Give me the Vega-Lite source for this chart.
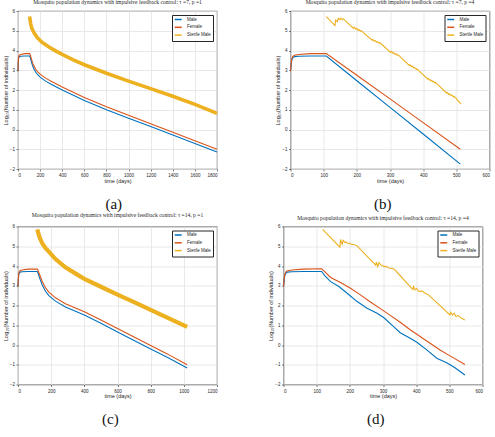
{
  "$schema": "https://vega.github.io/schema/vega-lite/v6.json",
  "background": "white",
  "padding": {"left": 2, "top": 0, "right": 0, "bottom": 0},
  "config": {
    "font": "Liberation Sans",
    "view": {"stroke": "#262626", "strokeWidth": 0.8},
    "title": {"font": "Liberation Serif", "fontSize": 5.6, "fontWeight": "normal", "color": "#262626", "offset": 2, "anchor": "middle"},
    "axis": {
      "labelFont": "Liberation Sans", "labelFontSize": 4.5, "labelColor": "#262626", "labelOverlap": false, "format": "d",
      "titleFont": "Liberation Sans", "titleFontSize": 5.5, "titleFontWeight": "normal", "titleColor": "#262626",
      "gridColor": "#e2e2e2", "gridWidth": 0.8, "domain": false,
      "tickColor": "#262626", "tickSize": 2, "tickWidth": 0.6,
      "labelPadding": 1.5, "titlePadding": 1
    },
    "legend": {
      "orient": "top-right", "offset": 4, "padding": 2, "strokeColor": "#262626", "fillColor": "white",
      "labelFont": "Liberation Sans", "labelFontSize": 4.5, "labelColor": "#262626", "labelOffset": 8,
      "symbolType": "M-1,0H3", "symbolSize": 12, "symbolStrokeWidth": 1.5, "rowPadding": 0.8, "cornerRadius": 0
    }
  },
  "datasets": {
    "a": [
      {"s": "Male", "t": 0, "v": 2.95}, {"s": "Male", "t": 2, "v": 3.3}, {"s": "Male", "t": 4, "v": 3.52}, {"s": "Male", "t": 7, "v": 3.63},
      {"s": "Male", "t": 12, "v": 3.69}, {"s": "Male", "t": 25, "v": 3.71}, {"s": "Male", "t": 60, "v": 3.72}, {"s": "Male", "t": 105, "v": 3.72},
      {"s": "Male", "t": 110, "v": 3.66}, {"s": "Male", "t": 120, "v": 3.45}, {"s": "Male", "t": 130, "v": 3.26}, {"s": "Male", "t": 140, "v": 3.11},
      {"s": "Male", "t": 160, "v": 2.9}, {"s": "Male", "t": 180, "v": 2.76}, {"s": "Male", "t": 200, "v": 2.65}, {"s": "Male", "t": 250, "v": 2.45},
      {"s": "Male", "t": 300, "v": 2.29}, {"s": "Male", "t": 400, "v": 2.0}, {"s": "Male", "t": 500, "v": 1.73}, {"s": "Male", "t": 600, "v": 1.47},
      {"s": "Male", "t": 800, "v": 1.0}, {"s": "Male", "t": 1000, "v": 0.57}, {"s": "Male", "t": 1200, "v": 0.15}, {"s": "Male", "t": 1400, "v": -0.28},
      {"s": "Male", "t": 1600, "v": -0.71}, {"s": "Male", "t": 1800, "v": -1.14},
      {"s": "Female", "t": 0, "v": 2.95}, {"s": "Female", "t": 2, "v": 3.35}, {"s": "Female", "t": 4, "v": 3.58}, {"s": "Female", "t": 7, "v": 3.7},
      {"s": "Female", "t": 12, "v": 3.76}, {"s": "Female", "t": 25, "v": 3.8}, {"s": "Female", "t": 60, "v": 3.84}, {"s": "Female", "t": 105, "v": 3.85},
      {"s": "Female", "t": 110, "v": 3.8}, {"s": "Female", "t": 120, "v": 3.6}, {"s": "Female", "t": 130, "v": 3.41}, {"s": "Female", "t": 140, "v": 3.26},
      {"s": "Female", "t": 160, "v": 3.05}, {"s": "Female", "t": 180, "v": 2.91}, {"s": "Female", "t": 200, "v": 2.8}, {"s": "Female", "t": 250, "v": 2.6},
      {"s": "Female", "t": 300, "v": 2.44}, {"s": "Female", "t": 400, "v": 2.15}, {"s": "Female", "t": 500, "v": 1.88}, {"s": "Female", "t": 600, "v": 1.62},
      {"s": "Female", "t": 800, "v": 1.15}, {"s": "Female", "t": 1000, "v": 0.72}, {"s": "Female", "t": 1200, "v": 0.29}, {"s": "Female", "t": 1400, "v": -0.14},
      {"s": "Female", "t": 1600, "v": -0.57}, {"s": "Female", "t": 1800, "v": -1.0}
    ],
    "aS": [
      {"s": "Sterile Male", "t": 105, "v": 5.72}, {"s": "Sterile Male", "t": 115, "v": 5.35}, {"s": "Sterile Male", "t": 125, "v": 5.12},
      {"s": "Sterile Male", "t": 145, "v": 4.9}, {"s": "Sterile Male", "t": 175, "v": 4.65}, {"s": "Sterile Male", "t": 210, "v": 4.45},
      {"s": "Sterile Male", "t": 280, "v": 4.18}, {"s": "Sterile Male", "t": 340, "v": 3.98}, {"s": "Sterile Male", "t": 400, "v": 3.8},
      {"s": "Sterile Male", "t": 500, "v": 3.53}, {"s": "Sterile Male", "t": 600, "v": 3.28}, {"s": "Sterile Male", "t": 800, "v": 2.85},
      {"s": "Sterile Male", "t": 1000, "v": 2.45}, {"s": "Sterile Male", "t": 1200, "v": 2.07}, {"s": "Sterile Male", "t": 1400, "v": 1.68},
      {"s": "Sterile Male", "t": 1600, "v": 1.27}, {"s": "Sterile Male", "t": 1800, "v": 0.82}
    ],
    "b": [
      {"s": "Male", "t": 0, "v": 2.95}, {"s": "Male", "t": 2, "v": 3.3}, {"s": "Male", "t": 4, "v": 3.52}, {"s": "Male", "t": 7, "v": 3.63},
      {"s": "Male", "t": 12, "v": 3.69}, {"s": "Male", "t": 25, "v": 3.71}, {"s": "Male", "t": 60, "v": 3.72}, {"s": "Male", "t": 108, "v": 3.72},
      {"s": "Male", "t": 200, "v": 2.47}, {"s": "Male", "t": 300, "v": 1.12}, {"s": "Male", "t": 400, "v": -0.23}, {"s": "Male", "t": 512, "v": -1.75},
      {"s": "Female", "t": 0, "v": 2.95}, {"s": "Female", "t": 2, "v": 3.35}, {"s": "Female", "t": 4, "v": 3.58}, {"s": "Female", "t": 7, "v": 3.7},
      {"s": "Female", "t": 12, "v": 3.76}, {"s": "Female", "t": 25, "v": 3.8}, {"s": "Female", "t": 60, "v": 3.84}, {"s": "Female", "t": 108, "v": 3.85},
      {"s": "Female", "t": 200, "v": 2.75}, {"s": "Female", "t": 300, "v": 1.55}, {"s": "Female", "t": 400, "v": 0.35}, {"s": "Female", "t": 512, "v": -1.0}
    ],
    "bS": [
      {"s": "Sterile Male", "t": 108, "v": 5.71}, {"s": "Sterile Male", "t": 134, "v": 5.26}, {"s": "Sterile Male", "t": 136, "v": 5.54},
      {"s": "Sterile Male", "t": 141, "v": 5.46}, {"s": "Sterile Male", "t": 144, "v": 5.63}, {"s": "Sterile Male", "t": 149, "v": 5.56},
      {"s": "Sterile Male", "t": 152, "v": 5.63}, {"s": "Sterile Male", "t": 157, "v": 5.56}, {"s": "Sterile Male", "t": 160, "v": 5.6},
      {"s": "Sterile Male", "t": 164, "v": 5.52}, {"s": "Sterile Male", "t": 190, "v": 5.12}, {"s": "Sterile Male", "t": 192, "v": 5.18},
      {"s": "Sterile Male", "t": 197, "v": 5.08}, {"s": "Sterile Male", "t": 199, "v": 5.12}, {"s": "Sterile Male", "t": 204, "v": 5.03},
      {"s": "Sterile Male", "t": 206, "v": 5.06}, {"s": "Sterile Male", "t": 211, "v": 4.98}, {"s": "Sterile Male", "t": 213, "v": 5.0},
      {"s": "Sterile Male", "t": 218, "v": 4.93}, {"s": "Sterile Male", "t": 246, "v": 4.52}, {"s": "Sterile Male", "t": 248, "v": 4.56},
      {"s": "Sterile Male", "t": 253, "v": 4.47}, {"s": "Sterile Male", "t": 255, "v": 4.5}, {"s": "Sterile Male", "t": 260, "v": 4.42},
      {"s": "Sterile Male", "t": 262, "v": 4.45}, {"s": "Sterile Male", "t": 267, "v": 4.38}, {"s": "Sterile Male", "t": 269, "v": 4.4},
      {"s": "Sterile Male", "t": 274, "v": 4.33}, {"s": "Sterile Male", "t": 302, "v": 3.9}, {"s": "Sterile Male", "t": 304, "v": 3.95},
      {"s": "Sterile Male", "t": 309, "v": 3.86}, {"s": "Sterile Male", "t": 311, "v": 3.89}, {"s": "Sterile Male", "t": 316, "v": 3.8},
      {"s": "Sterile Male", "t": 318, "v": 3.83}, {"s": "Sterile Male", "t": 323, "v": 3.75}, {"s": "Sterile Male", "t": 325, "v": 3.77},
      {"s": "Sterile Male", "t": 330, "v": 3.69}, {"s": "Sterile Male", "t": 358, "v": 3.24}, {"s": "Sterile Male", "t": 360, "v": 3.28},
      {"s": "Sterile Male", "t": 365, "v": 3.18}, {"s": "Sterile Male", "t": 367, "v": 3.21}, {"s": "Sterile Male", "t": 372, "v": 3.11},
      {"s": "Sterile Male", "t": 374, "v": 3.14}, {"s": "Sterile Male", "t": 379, "v": 3.05}, {"s": "Sterile Male", "t": 381, "v": 3.07},
      {"s": "Sterile Male", "t": 386, "v": 2.99}, {"s": "Sterile Male", "t": 414, "v": 2.55}, {"s": "Sterile Male", "t": 416, "v": 2.58},
      {"s": "Sterile Male", "t": 421, "v": 2.48}, {"s": "Sterile Male", "t": 423, "v": 2.51}, {"s": "Sterile Male", "t": 428, "v": 2.42},
      {"s": "Sterile Male", "t": 430, "v": 2.45}, {"s": "Sterile Male", "t": 435, "v": 2.36}, {"s": "Sterile Male", "t": 437, "v": 2.38},
      {"s": "Sterile Male", "t": 442, "v": 2.31}, {"s": "Sterile Male", "t": 470, "v": 1.85}, {"s": "Sterile Male", "t": 472, "v": 1.88},
      {"s": "Sterile Male", "t": 477, "v": 1.78}, {"s": "Sterile Male", "t": 479, "v": 1.81}, {"s": "Sterile Male", "t": 484, "v": 1.72},
      {"s": "Sterile Male", "t": 486, "v": 1.75}, {"s": "Sterile Male", "t": 491, "v": 1.66}, {"s": "Sterile Male", "t": 493, "v": 1.68},
      {"s": "Sterile Male", "t": 498, "v": 1.6}, {"s": "Sterile Male", "t": 514, "v": 1.28}
    ],
    "c": [
      {"s": "Male", "t": 0, "v": 2.95}, {"s": "Male", "t": 2, "v": 3.3}, {"s": "Male", "t": 4, "v": 3.52}, {"s": "Male", "t": 7, "v": 3.63},
      {"s": "Male", "t": 12, "v": 3.69}, {"s": "Male", "t": 25, "v": 3.71}, {"s": "Male", "t": 60, "v": 3.72}, {"s": "Male", "t": 116, "v": 3.72},
      {"s": "Male", "t": 120, "v": 3.66}, {"s": "Male", "t": 130, "v": 3.4}, {"s": "Male", "t": 146, "v": 3.04}, {"s": "Male", "t": 166, "v": 2.72},
      {"s": "Male", "t": 186, "v": 2.5}, {"s": "Male", "t": 226, "v": 2.22}, {"s": "Male", "t": 286, "v": 1.93}, {"s": "Male", "t": 350, "v": 1.7},
      {"s": "Male", "t": 400, "v": 1.52}, {"s": "Male", "t": 500, "v": 1.1}, {"s": "Male", "t": 600, "v": 0.66}, {"s": "Male", "t": 700, "v": 0.23},
      {"s": "Male", "t": 800, "v": -0.2}, {"s": "Male", "t": 900, "v": -0.62}, {"s": "Male", "t": 1020, "v": -1.16},
      {"s": "Female", "t": 0, "v": 2.95}, {"s": "Female", "t": 2, "v": 3.35}, {"s": "Female", "t": 4, "v": 3.58}, {"s": "Female", "t": 7, "v": 3.7},
      {"s": "Female", "t": 12, "v": 3.76}, {"s": "Female", "t": 25, "v": 3.8}, {"s": "Female", "t": 60, "v": 3.84}, {"s": "Female", "t": 116, "v": 3.85},
      {"s": "Female", "t": 120, "v": 3.8}, {"s": "Female", "t": 130, "v": 3.57}, {"s": "Female", "t": 146, "v": 3.22}, {"s": "Female", "t": 166, "v": 2.9},
      {"s": "Female", "t": 186, "v": 2.68}, {"s": "Female", "t": 226, "v": 2.39}, {"s": "Female", "t": 286, "v": 2.09}, {"s": "Female", "t": 350, "v": 1.86},
      {"s": "Female", "t": 400, "v": 1.68}, {"s": "Female", "t": 500, "v": 1.26}, {"s": "Female", "t": 600, "v": 0.83}, {"s": "Female", "t": 700, "v": 0.4},
      {"s": "Female", "t": 800, "v": -0.02}, {"s": "Female", "t": 900, "v": -0.45}, {"s": "Female", "t": 1020, "v": -1.0}
    ],
    "cS": [
      {"s": "Sterile Male", "t": 116, "v": 5.85}, {"s": "Sterile Male", "t": 130, "v": 5.45}, {"s": "Sterile Male", "t": 146, "v": 5.15},
      {"s": "Sterile Male", "t": 166, "v": 4.9}, {"s": "Sterile Male", "t": 186, "v": 4.73}, {"s": "Sterile Male", "t": 226, "v": 4.35},
      {"s": "Sterile Male", "t": 286, "v": 3.93}, {"s": "Sterile Male", "t": 350, "v": 3.6}, {"s": "Sterile Male", "t": 400, "v": 3.35},
      {"s": "Sterile Male", "t": 500, "v": 2.95}, {"s": "Sterile Male", "t": 600, "v": 2.55}, {"s": "Sterile Male", "t": 700, "v": 2.17},
      {"s": "Sterile Male", "t": 800, "v": 1.78}, {"s": "Sterile Male", "t": 900, "v": 1.39}, {"s": "Sterile Male", "t": 1020, "v": 0.92}
    ],
    "d": [
      {"s": "Male", "t": 0, "v": 2.95}, {"s": "Male", "t": 2, "v": 3.3}, {"s": "Male", "t": 4, "v": 3.52}, {"s": "Male", "t": 7, "v": 3.63},
      {"s": "Male", "t": 12, "v": 3.69}, {"s": "Male", "t": 25, "v": 3.71}, {"s": "Male", "t": 60, "v": 3.72}, {"s": "Male", "t": 115, "v": 3.72},
      {"s": "Male", "t": 125, "v": 3.5}, {"s": "Male", "t": 142, "v": 3.21}, {"s": "Male", "t": 167, "v": 2.96}, {"s": "Male", "t": 192, "v": 2.62},
      {"s": "Male", "t": 222, "v": 2.2}, {"s": "Male", "t": 252, "v": 1.86}, {"s": "Male", "t": 282, "v": 1.61}, {"s": "Male", "t": 302, "v": 1.39},
      {"s": "Male", "t": 332, "v": 0.93}, {"s": "Male", "t": 352, "v": 0.62}, {"s": "Male", "t": 382, "v": 0.34}, {"s": "Male", "t": 402, "v": 0.14},
      {"s": "Male", "t": 432, "v": -0.25}, {"s": "Male", "t": 462, "v": -0.67}, {"s": "Male", "t": 492, "v": -0.9}, {"s": "Male", "t": 517, "v": -1.15},
      {"s": "Male", "t": 547, "v": -1.52},
      {"s": "Female", "t": 0, "v": 2.95}, {"s": "Female", "t": 2, "v": 3.35}, {"s": "Female", "t": 4, "v": 3.58}, {"s": "Female", "t": 7, "v": 3.7},
      {"s": "Female", "t": 12, "v": 3.76}, {"s": "Female", "t": 25, "v": 3.8}, {"s": "Female", "t": 60, "v": 3.84}, {"s": "Female", "t": 115, "v": 3.86},
      {"s": "Female", "t": 125, "v": 3.7}, {"s": "Female", "t": 142, "v": 3.42}, {"s": "Female", "t": 172, "v": 3.16}, {"s": "Female", "t": 202, "v": 2.87},
      {"s": "Female", "t": 232, "v": 2.54}, {"s": "Female", "t": 262, "v": 2.18}, {"s": "Female", "t": 292, "v": 1.84}, {"s": "Female", "t": 322, "v": 1.5},
      {"s": "Female", "t": 352, "v": 1.15}, {"s": "Female", "t": 382, "v": 0.77}, {"s": "Female", "t": 412, "v": 0.43}, {"s": "Female", "t": 442, "v": 0.09},
      {"s": "Female", "t": 472, "v": -0.25}, {"s": "Female", "t": 502, "v": -0.55}, {"s": "Female", "t": 547, "v": -0.99}
    ],
    "dS": [
      {"s": "Sterile Male", "t": 118, "v": 5.86}, {"s": "Sterile Male", "t": 170, "v": 4.95}, {"s": "Sterile Male", "t": 172, "v": 5.35},
      {"s": "Sterile Male", "t": 177, "v": 5.1}, {"s": "Sterile Male", "t": 180, "v": 5.3}, {"s": "Sterile Male", "t": 186, "v": 5.18},
      {"s": "Sterile Male", "t": 189, "v": 5.22}, {"s": "Sterile Male", "t": 196, "v": 5.12}, {"s": "Sterile Male", "t": 199, "v": 5.16},
      {"s": "Sterile Male", "t": 207, "v": 5.08}, {"s": "Sterile Male", "t": 210, "v": 5.1}, {"s": "Sterile Male", "t": 222, "v": 5.02},
      {"s": "Sterile Male", "t": 278, "v": 4.04}, {"s": "Sterile Male", "t": 280, "v": 4.2}, {"s": "Sterile Male", "t": 284, "v": 3.97},
      {"s": "Sterile Male", "t": 288, "v": 4.17}, {"s": "Sterile Male", "t": 294, "v": 4.05}, {"s": "Sterile Male", "t": 298, "v": 4.03},
      {"s": "Sterile Male", "t": 302, "v": 3.98}, {"s": "Sterile Male", "t": 306, "v": 3.97}, {"s": "Sterile Male", "t": 310, "v": 3.98},
      {"s": "Sterile Male", "t": 317, "v": 3.9}, {"s": "Sterile Male", "t": 327, "v": 3.88}, {"s": "Sterile Male", "t": 335, "v": 3.82},
      {"s": "Sterile Male", "t": 390, "v": 2.8}, {"s": "Sterile Male", "t": 392, "v": 2.96}, {"s": "Sterile Male", "t": 397, "v": 2.79},
      {"s": "Sterile Male", "t": 402, "v": 2.87}, {"s": "Sterile Male", "t": 407, "v": 2.71}, {"s": "Sterile Male", "t": 417, "v": 2.74},
      {"s": "Sterile Male", "t": 427, "v": 2.62}, {"s": "Sterile Male", "t": 437, "v": 2.54}, {"s": "Sterile Male", "t": 502, "v": 1.52},
      {"s": "Sterile Male", "t": 504, "v": 1.66}, {"s": "Sterile Male", "t": 510, "v": 1.52}, {"s": "Sterile Male", "t": 514, "v": 1.61},
      {"s": "Sterile Male", "t": 520, "v": 1.44}, {"s": "Sterile Male", "t": 527, "v": 1.49}, {"s": "Sterile Male", "t": 537, "v": 1.35},
      {"s": "Sterile Male", "t": 547, "v": 1.27}
    ]
  },
  "spacing": 0.5,
  "resolve": {"scale": {"color": "independent"}, "legend": {"color": "independent"}},
  "vconcat": [
    {
      "spacing": 49.5,
      "resolve": {"scale": {"color": "independent"}, "legend": {"color": "independent"}},
      "hconcat": [
        {
          "title": {"text": "(a)", "orient": "bottom", "anchor": "middle", "font": "Liberation Serif", "fontSize": 15, "fontWeight": "normal", "color": "#111111", "offset": 13},
          "resolve": {"scale": {"color": "independent"}, "legend": {"color": "independent"}},
          "vconcat": [{
            "title": "Mosquito population dynamics with impulsive feedback control: τ =7, p =1",
            "width": 199, "height": 158,
            "encoding": {
              "x": {"field": "t", "type": "quantitative", "scale": {"domain": [0, 1800]}, "axis": {"values": [0, 200, 400, 600, 800, 1000, 1200, 1400, 1600, 1800], "labelOverlap": false, "title": "time (days)"}},
              "y": {"field": "v", "type": "quantitative", "scale": {"domain": [-2, 6]}, "axis": {"values": [-2, -1, 0, 1, 2, 3, 4, 5, 6], "labelOverlap": false, "title": "Log₁₀(Number of individuals)"}},
              "color": {"field": "s", "type": "nominal", "scale": {"domain": ["Male", "Female", "Sterile Male"], "range": ["#0072BD", "#D95319", "#EDB120"]}, "legend": {"title": null}}
            },
            "layer": [
              {"data": {"name": "a"}, "mark": {"type": "line", "strokeWidth": 1.1}},
              {"data": {"name": "aS"}, "mark": {"type": "line", "strokeWidth": 3.6}}
            ]
          }]
        },
        {
          "title": {"text": "(b)", "orient": "bottom", "anchor": "middle", "font": "Liberation Serif", "fontSize": 15, "fontWeight": "normal", "color": "#111111", "offset": 13},
          "resolve": {"scale": {"color": "independent"}, "legend": {"color": "independent"}},
          "vconcat": [{
            "title": "Mosquito population dynamics with impulsive feedback control: τ =7, p =4",
            "width": 199, "height": 158,
            "encoding": {
              "x": {"field": "t", "type": "quantitative", "scale": {"domain": [0, 600]}, "axis": {"values": [0, 100, 200, 300, 400, 500, 600], "labelOverlap": false, "title": "time (days)"}},
              "y": {"field": "v", "type": "quantitative", "scale": {"domain": [-2, 6]}, "axis": {"values": [-2, -1, 0, 1, 2, 3, 4, 5, 6], "labelOverlap": false, "title": "Log₁₀(Number of individuals)"}},
              "color": {"field": "s", "type": "nominal", "scale": {"domain": ["Male", "Female", "Sterile Male"], "range": ["#0072BD", "#D95319", "#EDB120"]}, "legend": {"title": null}}
            },
            "layer": [
              {"data": {"name": "b"}, "mark": {"type": "line", "strokeWidth": 1.1}},
              {"data": {"name": "bS"}, "mark": {"type": "line", "strokeWidth": 1.1}}
            ]
          }]
        }
      ]
    },
    {
      "spacing": 49.5,
      "resolve": {"scale": {"color": "independent"}, "legend": {"color": "independent"}},
      "hconcat": [
        {
          "title": {"text": "(c)", "orient": "bottom", "anchor": "middle", "font": "Liberation Serif", "fontSize": 15, "fontWeight": "normal", "color": "#111111", "offset": 13},
          "resolve": {"scale": {"color": "independent"}, "legend": {"color": "independent"}},
          "vconcat": [{
            "title": "Mosquito population dynamics with impulsive feedback control: τ =14, p =1",
            "width": 199, "height": 158,
            "encoding": {
              "x": {"field": "t", "type": "quantitative", "scale": {"domain": [0, 1200]}, "axis": {"values": [0, 200, 400, 600, 800, 1000, 1200], "labelOverlap": false, "title": "time (days)"}},
              "y": {"field": "v", "type": "quantitative", "scale": {"domain": [-2, 6]}, "axis": {"values": [-2, -1, 0, 1, 2, 3, 4, 5, 6], "labelOverlap": false, "title": "Log₁₀(Number of individuals)"}},
              "color": {"field": "s", "type": "nominal", "scale": {"domain": ["Male", "Female", "Sterile Male"], "range": ["#0072BD", "#D95319", "#EDB120"]}, "legend": {"title": null}}
            },
            "layer": [
              {"data": {"name": "c"}, "mark": {"type": "line", "strokeWidth": 1.1}},
              {"data": {"name": "cS"}, "mark": {"type": "line", "strokeWidth": 4.2}}
            ]
          }]
        },
        {
          "title": {"text": "(d)", "orient": "bottom", "anchor": "middle", "font": "Liberation Serif", "fontSize": 15, "fontWeight": "normal", "color": "#111111", "offset": 13},
          "resolve": {"scale": {"color": "independent"}, "legend": {"color": "independent"}},
          "vconcat": [{
            "title": "Mosquito population dynamics with impulsive feedback control: τ =14, p =4",
            "width": 199, "height": 158,
            "encoding": {
              "x": {"field": "t", "type": "quantitative", "scale": {"domain": [0, 600]}, "axis": {"values": [0, 100, 200, 300, 400, 500, 600], "labelOverlap": false, "title": "time (days)"}},
              "y": {"field": "v", "type": "quantitative", "scale": {"domain": [-2, 6]}, "axis": {"values": [-2, -1, 0, 1, 2, 3, 4, 5, 6], "labelOverlap": false, "title": "Log₁₀(Number of individuals)"}},
              "color": {"field": "s", "type": "nominal", "scale": {"domain": ["Male", "Female", "Sterile Male"], "range": ["#0072BD", "#D95319", "#EDB120"]}, "legend": {"title": null}}
            },
            "layer": [
              {"data": {"name": "d"}, "mark": {"type": "line", "strokeWidth": 1.1}},
              {"data": {"name": "dS"}, "mark": {"type": "line", "strokeWidth": 1.1}}
            ]
          }]
        }
      ]
    }
  ]
}
